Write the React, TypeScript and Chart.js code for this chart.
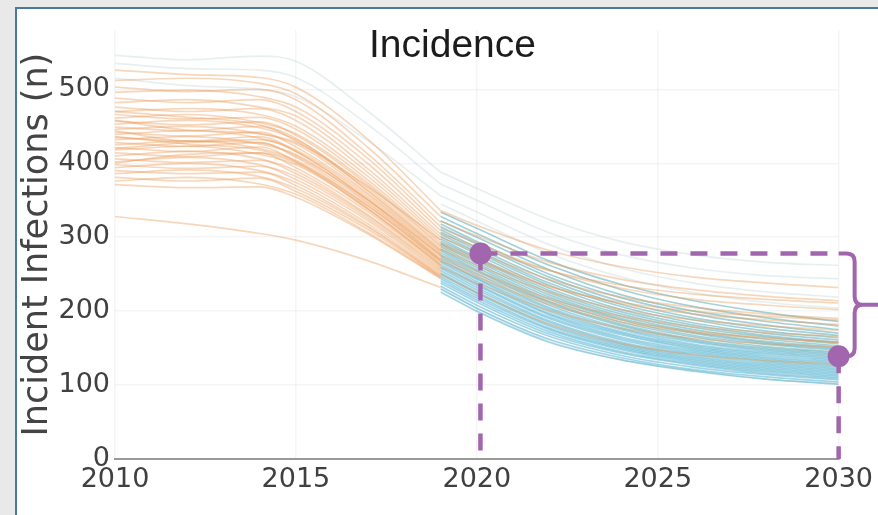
import React, { useEffect, useRef } from "react";
import { Chart, registerables } from "chart.js";

Chart.register(...registerables);

const TITLE = "Incidence";
const Y_TITLE = "Incident Infections (n)";
const X_TICKS = [2010, 2015, 2020, 2025, 2030];
const Y_TICKS = [0, 100, 200, 300, 400, 500];
const X_MIN = 2010;
const X_MAX = 2030;
const Y_MIN = 0;
const Y_MAX = 580;

const HIST_YEARS = [2010, 2012, 2014, 2015, 2017, 2019];
const PROJ_YEARS = [2019, 2020, 2022, 2024, 2026, 2028, 2030];

// calibrated historical runs (orange)
const HIST_ORANGE = [
  [526, 520, 516, 503, 432, 336],
  [512, 515, 508, 494, 421, 328],
  [503, 497, 500, 486, 412, 320],
  [496, 499, 490, 476, 406, 314],
  [488, 482, 486, 470, 399, 309],
  [482, 486, 476, 464, 392, 304],
  [476, 470, 474, 458, 387, 300],
  [470, 474, 466, 450, 382, 296],
  [466, 460, 462, 446, 377, 292],
  [461, 466, 455, 440, 373, 289],
  [457, 452, 456, 438, 370, 287],
  [453, 458, 448, 432, 366, 284],
  [449, 444, 450, 430, 363, 282],
  [446, 450, 440, 426, 359, 279],
  [442, 437, 442, 422, 357, 277],
  [439, 444, 434, 418, 354, 275],
  [435, 430, 436, 416, 351, 273],
  [432, 436, 426, 412, 347, 270],
  [428, 423, 428, 408, 345, 268],
  [425, 430, 420, 404, 342, 266],
  [421, 416, 422, 402, 339, 264],
  [418, 423, 412, 398, 337, 262],
  [414, 409, 414, 394, 334, 260],
  [410, 416, 406, 390, 330, 258],
  [406, 401, 404, 386, 328, 256],
  [402, 408, 398, 382, 325, 254],
  [398, 393, 396, 378, 322, 252],
  [394, 400, 390, 374, 318, 250],
  [390, 386, 388, 370, 315, 248],
  [386, 391, 382, 366, 313, 247],
  [381, 376, 380, 362, 310, 246],
  [376, 381, 372, 358, 306, 245],
  [371, 367, 368, 354, 304, 244],
  [328, 318, 305, 296, 268, 232],
  [458, 445, 440, 428, 368, 296],
  [444, 430, 428, 410, 350, 276],
  [420, 428, 432, 416, 350, 270],
  [470, 462, 452, 434, 362, 281],
  [436, 426, 418, 402, 342, 268],
  [400, 412, 414, 400, 338, 262],
];

// faint historical runs
const HIST_PALE = [
  [546, 540, 545, 538, 470, 388],
  [535, 528, 526, 516, 452, 372],
  [515, 505, 500, 490, 430, 356],
];

// projections (teal)
const PROJ_TEAL = [
  [334, 312, 268, 236, 214, 198, 186],
  [328, 305, 262, 229, 206, 191, 180],
  [322, 300, 256, 222, 200, 186, 175],
  [318, 294, 250, 218, 196, 181, 170],
  [314, 291, 246, 213, 191, 177, 167],
  [310, 286, 242, 209, 188, 173, 164],
  [307, 283, 238, 206, 184, 170, 161],
  [304, 280, 235, 202, 181, 167, 158],
  [301, 277, 231, 199, 178, 165, 156],
  [298, 273, 228, 196, 175, 162, 153],
  [295, 271, 225, 193, 172, 159, 151],
  [292, 268, 222, 190, 170, 157, 149],
  [290, 265, 219, 188, 167, 155, 147],
  [287, 262, 216, 185, 165, 152, 145],
  [284, 259, 213, 182, 162, 150, 143],
  [282, 256, 211, 180, 160, 148, 141],
  [279, 254, 208, 177, 158, 146, 139],
  [276, 251, 205, 175, 155, 144, 137],
  [274, 248, 203, 172, 153, 142, 135],
  [271, 245, 200, 170, 151, 140, 133],
  [268, 243, 197, 168, 149, 138, 131],
  [266, 240, 195, 165, 147, 136, 129],
  [263, 237, 192, 163, 145, 134, 127],
  [260, 235, 190, 161, 143, 132, 125],
  [258, 232, 187, 158, 141, 130, 123],
  [255, 229, 185, 156, 139, 128, 121],
  [252, 226, 182, 154, 137, 126, 119],
  [250, 224, 180, 152, 135, 124, 117],
  [247, 221, 177, 150, 133, 122, 115],
  [244, 218, 175, 148, 131, 120, 113],
  [241, 215, 172, 145, 129, 118, 111],
  [238, 212, 169, 143, 127, 116, 109],
  [234, 208, 166, 140, 124, 114, 107],
  [230, 204, 162, 137, 121, 111, 104],
  [226, 200, 158, 134, 119, 108, 101],
];

// projections (orange)
const PROJ_ORANGE = [
  [336, 316, 282, 260, 246, 238, 232],
  [322, 302, 266, 243, 229, 220, 214],
  [312, 292, 255, 231, 216, 208, 202],
  [300, 280, 243, 219, 205, 196, 190],
  [292, 271, 234, 210, 196, 188, 182],
  [284, 262, 226, 202, 188, 180, 174],
  [276, 254, 217, 193, 179, 171, 166],
  [268, 246, 209, 185, 171, 163, 158],
  [260, 238, 201, 177, 163, 156, 151],
  [305, 287, 255, 235, 223, 216, 211],
  [288, 268, 233, 212, 200, 193, 188],
  [272, 250, 213, 188, 173, 164, 158],
  [250, 225, 183, 156, 141, 133, 128],
];

// faint projections
const PROJ_PALE = [
  [388, 366, 324, 294, 276, 266, 262],
  [372, 350, 306, 276, 258, 248, 244],
  [356, 334, 290, 258, 238, 226, 219],
  [345, 322, 278, 246, 225, 212, 204],
  [232, 204, 160, 134, 118, 108, 102],
];

// annotation
const MARK_YEARS = [2020.1, 2030];
const MARK_VALUES = [278, 139];

const PURPLE = "#a266ae";
const ORANGE = "rgba(236, 156, 88, 0.4)";
const TEAL_A = "rgba(38, 146, 162, 0.42)";
const TEAL_B = "rgba(30, 156, 192, 0.42)";
const PALE = "rgba(150, 182, 190, 0.22)";
const TICK_FONT = { family: "'DejaVu Sans', sans-serif", size: 27 };

function pts(years: number[], vals: number[]) {
  return years.map((x, i) => ({ x, y: vals[i] }));
}

function lineSet(years: number[], vals: number[], color: string) {
  return {
    type: "line" as const,
    data: pts(years, vals),
    borderColor: color,
    borderWidth: 1.7,
    pointRadius: 0,
    fill: false,
    cubicInterpolationMode: "monotone" as const,
  };
}

const bracePlugin = {
  id: "brace",
  afterDatasetsDraw(chart: any) {
    const xs = chart.scales.x;
    const ys = chart.scales.y;
    const ctx = chart.ctx;
    const x0 = xs.getPixelForValue(MARK_YEARS[1]);
    const yTop = ys.getPixelForValue(MARK_VALUES[0]);
    const yBot = ys.getPixelForValue(MARK_VALUES[1]);
    const ym = (yTop + yBot) / 2;
    const xr = x0 + 16;
    const r = 8;
    const tip = x0 + 40;
    ctx.save();
    ctx.strokeStyle = PURPLE;
    ctx.lineWidth = 4;
    ctx.lineJoin = "round";
    ctx.beginPath();
    ctx.moveTo(x0, yTop);
    ctx.lineTo(xr - r, yTop);
    ctx.quadraticCurveTo(xr, yTop, xr, yTop + r);
    ctx.lineTo(xr, ym - r);
    ctx.quadraticCurveTo(xr, ym, xr + r, ym);
    ctx.lineTo(tip, ym);
    ctx.moveTo(xr + r, ym);
    ctx.quadraticCurveTo(xr, ym, xr, ym + r);
    ctx.lineTo(xr, yBot - r);
    ctx.quadraticCurveTo(xr, yBot, xr - r, yBot);
    ctx.lineTo(x0, yBot);
    ctx.stroke();
    ctx.restore();
  },
  afterDraw(chart: any) {
    const ctx = chart.ctx;
    ctx.save();
    ctx.fillStyle = "#1c1c1c";
    ctx.font = "39px 'Liberation Sans', Arial, sans-serif";
    ctx.textAlign = "center";
    ctx.textBaseline = "alphabetic";
    ctx.fillText(TITLE, chart.width / 2 + 5, 48);
    ctx.restore();
  },
};

export default function App() {
  const ref = useRef<HTMLCanvasElement | null>(null);

  useEffect(() => {
    if (!ref.current) return;
    const purpleDash = (a: any[]) => ({
      type: "line" as const,
      data: a,
      borderColor: PURPLE,
      borderWidth: 4.5,
      borderDash: [17, 13],
      pointRadius: 0,
      fill: false,
      clip: false as any,
    });
    const datasets: any[] = [
      {
        type: "scatter" as const,
        data: MARK_YEARS.map((x, i) => ({ x, y: MARK_VALUES[i] })),
        backgroundColor: PURPLE,
        borderWidth: 0,
        pointRadius: 11,
        clip: false,
      },
      purpleDash([
        { x: MARK_YEARS[0], y: MARK_VALUES[0] },
        { x: MARK_YEARS[1], y: MARK_VALUES[0] },
      ]),
      purpleDash([
        { x: MARK_YEARS[0], y: MARK_VALUES[0] },
        { x: MARK_YEARS[0], y: Y_MIN },
      ]),
      purpleDash([
        { x: MARK_YEARS[1], y: MARK_VALUES[1] },
        { x: MARK_YEARS[1], y: Y_MIN },
      ]),
      ...PROJ_ORANGE.map((v) => lineSet(PROJ_YEARS, v, ORANGE)),
      ...PROJ_TEAL.map((v, i) => lineSet(PROJ_YEARS, v, i < 16 ? TEAL_A : TEAL_B)),
      ...PROJ_PALE.map((v) => lineSet(PROJ_YEARS, v, PALE)),
      ...HIST_ORANGE.map((v) => lineSet(HIST_YEARS, v, ORANGE)),
      ...HIST_PALE.map((v) => lineSet(HIST_YEARS, v, PALE)),
    ];

    const chart = new Chart(ref.current, {
      type: "line",
      data: { datasets },
      plugins: [bracePlugin],
      options: {
        animation: false,
        responsive: false,
        events: [],
        layout: { padding: { top: 19, right: 37, left: 0, bottom: 0 } },
        plugins: { legend: { display: false }, tooltip: { enabled: false }, title: { display: false } },
        scales: {
          x: {
            type: "linear",
            min: X_MIN,
            max: X_MAX,
            afterBuildTicks: (s: any) => {
              s.ticks = X_TICKS.map((v) => ({ value: v }));
            },
            afterFit: (s: any) => {
              s.height = 56;
            },
            ticks: {
              font: TICK_FONT,
              color: "#404040",
              padding: 5,
              maxRotation: 0,
              autoSkip: false,
              callback: (v: any) => String(v),
            },
            grid: { color: "rgba(0,0,0,0.04)", lineWidth: 1.5, drawTicks: false },
            border: { display: true, color: "#9a9a9a", width: 2 },
          },
          y: {
            type: "linear",
            min: Y_MIN,
            max: Y_MAX,
            afterBuildTicks: (s: any) => {
              s.ticks = Y_TICKS.map((v) => ({ value: v }));
            },
            afterFit: (s: any) => {
              s.width = 98;
            },
            ticks: {
              font: TICK_FONT,
              color: "#404040",
              padding: 5,
              callback: (v: any) => String(v),
            },
            grid: { color: "rgba(0,0,0,0.04)", lineWidth: 1.5, drawTicks: false },
            border: { display: false },
            title: {
              display: true,
              text: Y_TITLE,
              font: { family: "'DejaVu Sans', sans-serif", size: 35 },
              color: "#444444",
              padding: { top: 0, bottom: 0 },
            },
          },
        },
      },
    });
    return () => chart.destroy();
  }, []);

  return (
    <div
      style={{
        position: "fixed",
        left: 0,
        top: 0,
        width: 878,
        height: 515,
        background: "#e9e9e9",
        overflow: "hidden",
      }}
    >
      <div
        style={{
          position: "absolute",
          left: 15,
          top: 7,
          right: 0,
          bottom: 0,
          background: "#ffffff",
          borderLeft: "2px solid #4a78a6",
          borderTop: "2px solid #4a78a6",
        }}
      >
        <canvas ref={ref} width={861} height={506} style={{ display: "block" }} />
      </div>
    </div>
  );
}
